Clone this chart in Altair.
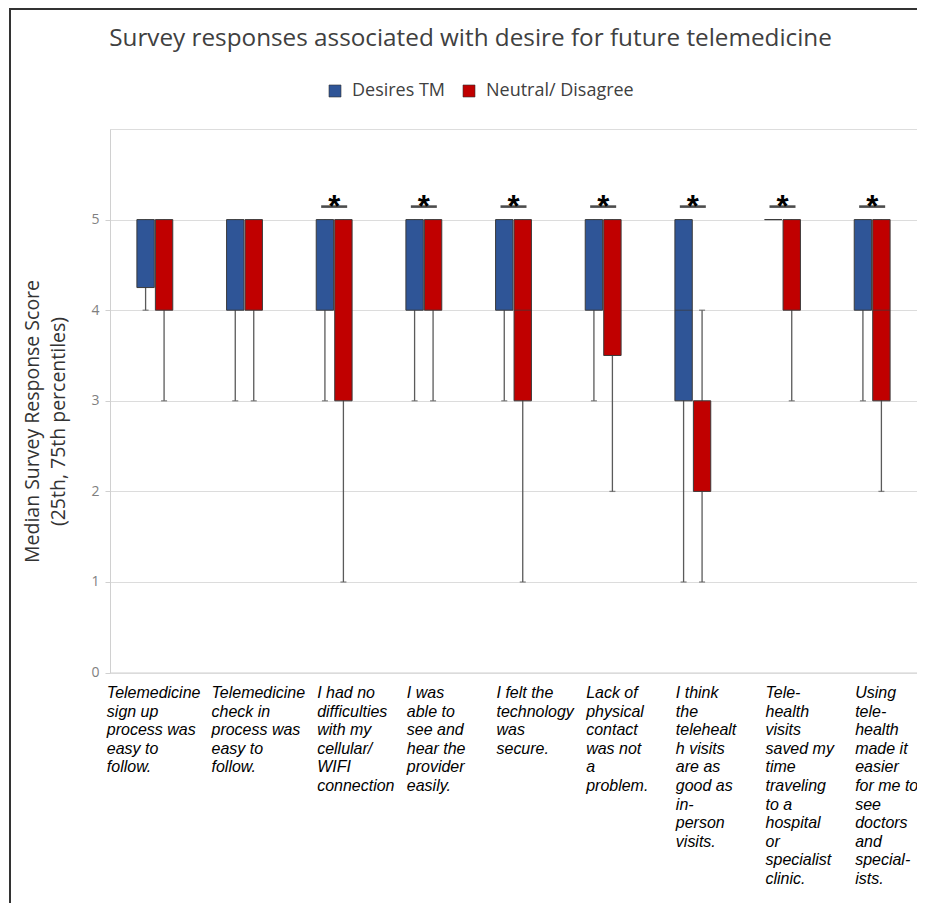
import altair as alt
import pandas as pd

categories = [
    "Telemedicine|sign up|process was|easy to|follow.",
    "Telemedicine|check in|process was|easy to|follow.",
    "I had no|difficulties|with my|cellular/|WIFI|connection",
    "I was|able to|see and|hear the|provider|easily.",
    "I felt the|technology|was|secure.",
    "Lack of|physical|contact|was not|a|problem.",
    "I think|the|telehealt|h visits|are as|good as|in-|person|visits.",
    "Tele-|health|visits|saved my|time|traveling|to a|hospital|or|specialist|clinic.",
    "Using|tele-|health|made it|easier|for me to|see|doctors|and|special-|ists.",
]
groups = ["Desires TM", "Neutral/ Disagree"]
colors = ["#2F5597", "#C00000"]

desires_q1 = [4.25, 4, 4, 4, 4, 4, 3, 5, 4]
desires_q3 = [5, 5, 5, 5, 5, 5, 5, 5, 5]
desires_median = [5, 5, 5, 5, 5, 5, 4, 5, 5]
desires_low = [4, 3, 3, 3, 3, 3, 1, 5, 3]
desires_high = [5, 5, 5, 5, 5, 5, 5, 5, 5]

neutral_q1 = [4, 4, 3, 4, 3, 3.5, 2, 4, 3]
neutral_q3 = [5, 5, 5, 5, 5, 5, 3, 5, 5]
neutral_median = [5, 5, 5, 5, 4, 5, 3, 5, 4]
neutral_low = [3, 3, 1, 3, 1, 2, 1, 3, 2]
neutral_high = [5, 5, 5, 5, 5, 5, 4, 5, 5]

significant = [False, False, True, True, True, True, True, True, True]

rows = []
for i, c in enumerate(categories):
    rows.append(dict(category=c, group=groups[0], q1=desires_q1[i], q3=desires_q3[i],
                     med=desires_median[i], lo=desires_low[i], hi=desires_high[i]))
    rows.append(dict(category=c, group=groups[1], q1=neutral_q1[i], q3=neutral_q3[i],
                     med=neutral_median[i], lo=neutral_low[i], hi=neutral_high[i]))
df = pd.DataFrame(rows)

whisk = df[df["lo"] < df["hi"]]
caps_rows = []
for r in rows:
    if r["lo"] < r["q1"]:
        caps_rows.append(dict(category=r["category"], group=r["group"], v=r["lo"]))
    if r["hi"] > r["q3"]:
        caps_rows.append(dict(category=r["category"], group=r["group"], v=r["hi"]))
caps = pd.DataFrame(caps_rows)
med_df = df[(df["med"] > df["q1"]) & (df["med"] < df["q3"])]
sig_df = pd.DataFrame({"category": [c for c, s in zip(categories, significant) if s]})

FONT = "Open Sans"

x_enc = alt.X(
    "category:N", sort=categories,
    scale=alt.Scale(paddingInner=0.6, paddingOuter=0.3),
    axis=alt.Axis(
        title=None, labelAngle=0, labelAlign="left", labelBaseline="top",
        labelFont="Liberation Sans", labelFontStyle="italic", labelFontSize=16,
        labelColor="black", labelLineHeight=18.6, labelPadding=12, labelLimit=0,
        labelExpr="split(datum.label, '|')",
        labelOffset={"condition": [
            {"test": "indexof(datum.value, 'sign up') >= 0", "value": -48},
            {"test": "indexof(datum.value, 'check in') >= 0", "value": -33},
        ], "value": -17},
        ticks=False, domainColor="#d9d9d9", grid=False,
    ),
)
xo_enc = alt.XOffset("group:N", sort=groups, scale=alt.Scale(paddingInner=0.06, paddingOuter=0))
y_scale = alt.Scale(domain=[0, 6], nice=False)
y_axis = alt.Axis(
    values=[0, 1, 2, 3, 4, 5], format="d",
    title=["Median Survey Response Score", "(25th, 75th percentiles)"],
    titleFont=FONT, titleFontSize=19.5, titleFontWeight="normal", titleColor="#333333",
    titleLineHeight=27, titleX=-87, titleY=292, titleBaseline="top",
    labelFont=FONT, labelFontSize=14, labelColor="#7f7f7f", labelPadding=6,
    tickColor="#d0d0d0", tickSize=5, domainColor="#d0d0d0",
    gridColor="#dcdcdc", gridWidth=1,
)

base = alt.Chart(df)

whiskers = alt.Chart(whisk).mark_rule(color="#5a5a5a", strokeWidth=1.3).encode(
    x=x_enc, xOffset=xo_enc,
    y=alt.Y("lo:Q", scale=y_scale, axis=y_axis), y2="hi:Q",
)
cap_ticks = alt.Chart(caps).mark_tick(color="#5a5a5a", thickness=1.3, size=6, orient="horizontal").encode(
    x=x_enc, xOffset=xo_enc, y=alt.Y("v:Q", scale=y_scale),
)
bars = base.mark_bar(stroke="#3a3a3a", strokeWidth=1).encode(
    x=x_enc, xOffset=xo_enc,
    y=alt.Y("q1:Q", scale=y_scale), y2="q3:Q",
    color=alt.Color("group:N", sort=groups, scale=alt.Scale(domain=groups, range=colors),
                    legend=alt.Legend(
                        title=None, orient="none", direction="horizontal",
                        legendX=216, legendY=-47,
                        symbolType="square", symbolSize=144, symbolStrokeWidth=0.6,
                        symbolStrokeColor="#333333",
                        labelFont=FONT, labelFontSize=18, labelColor="#404040",
                        labelOffset=8, columnPadding=14, labelLimit=0)),
)
medians = alt.Chart(med_df).mark_tick(color="#3a3a3a", thickness=1, size=17, orient="horizontal").encode(
    x=x_enc, xOffset=xo_enc, y=alt.Y("med:Q", scale=y_scale),
)
underline = alt.Chart(sig_df).mark_tick(color="black", thickness=2.6, size=26,
                                        orient="horizontal", yOffset=-13).encode(
    x=x_enc, y=alt.datum(5),
)
stars = alt.Chart(sig_df).mark_text(text="*", font="Liberation Sans", fontSize=31,
                                    fontWeight="bold", color="black",
                                    baseline="alphabetic", dy=-3).encode(
    x=x_enc, y=alt.datum(5),
)
one = pd.DataFrame({"k": [0]})
frame_left = alt.Chart(one).mark_rule(color="#333333", strokeWidth=2).encode(
    x=alt.value(-100), y=alt.value(-121), y2=alt.value(800))
frame_top = alt.Chart(one).mark_rule(color="#333333", strokeWidth=2).encode(
    x=alt.value(-101), x2=alt.value(820), y=alt.value(-120))

chart = alt.layer(whiskers, cap_ticks, bars, medians, underline, stars, frame_left, frame_top).properties(
    width=807, height=543.6,
    autosize=alt.AutoSizeParams(type="none"),
    padding={"left": 102, "top": 121, "right": 0, "bottom": 230},
    title=alt.TitleParams(
        text="Survey responses associated with desire for future telemedicine",
        font=FONT, fontSize=24.3, fontWeight="normal", color="#404040",
        anchor="middle", baseline="alphabetic", offset=0, dx=-43, dy=63),
).configure_view(stroke=None).configure(background="white")

chart.save("out.html", embed_options={"renderer": "svg", "actions": False})
